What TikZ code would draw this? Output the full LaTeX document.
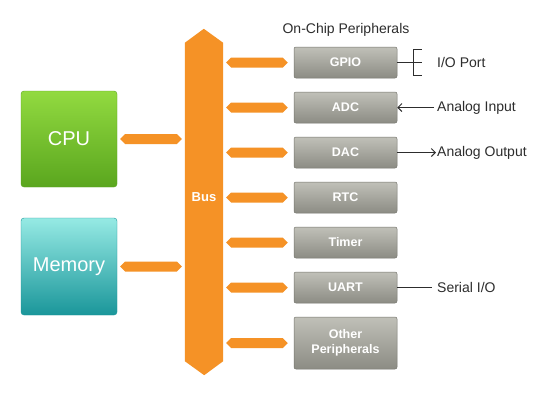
\documentclass[tikz,border=0pt]{standalone}
\usepackage{fontspec}
\setmainfont{Liberation Sans}
\usepackage{xcolor}
\definecolor{busorange}{RGB}{245, 146, 38}
\definecolor{cpulight}{RGB}{146, 218, 64}
\definecolor{cpudark}{RGB}{90, 166, 30}
\definecolor{memlight}{RGB}{150, 234, 228}
\definecolor{memdark}{RGB}{26, 150, 154}
\definecolor{perilight}{RGB}{192, 192, 184}
\definecolor{peridark}{RGB}{140, 140, 132}
\definecolor{periedge}{RGB}{118, 118, 110}
\definecolor{wiregray}{RGB}{45, 45, 45}
\usetikzlibrary{arrows.meta, calc}

% orange bus link: pointed at both ends, from #1 to #2
\newcommand{\buslink}[2]{%
  \path (#1) coordinate (lkA) (#2) coordinate (lkB);
  \fill[busorange] (lkA) -- ++(5,-5) -- ([shift={(-5,-5)}]lkB) -- (lkB)
    -- ([shift={(-5,5)}]lkB) -- ([shift={(5,5)}]lkA) -- cycle;}

\begin{document}
\begin{tikzpicture}[x=1pt, y=-1pt, >={Straight Barb[length=4pt, width=8pt]},
    block/.style={rounded corners=3pt, text=white, inner sep=0pt,
        minimum width=96pt, font=\fontsize{20}{24}\selectfont},
    periph/.style={rounded corners=2pt, top color=perilight, bottom color=peridark,
        draw=periedge, line width=0.5pt, minimum width=103pt, minimum height=31pt,
        inner sep=0pt, text=white, align=center,
        font=\bfseries\fontsize{12.5}{15}\selectfont},
    extlabel/.style={anchor=west, inner sep=0pt, text=wiregray,
        font=\fontsize{14}{16}\selectfont},
    wire/.style={wiregray, line width=1pt}]

% === Lienzo ===
\fill[white] (0,0) rectangle (550,402);
\useasboundingbox (0,0) rectangle (550,402);

% === Bus central (flecha doble vertical) ===
\node[minimum width=38pt, minimum height=318pt, inner sep=0pt] (bus) at (204,202) {};
\fill[busorange] (bus.south west) -- (bus.north west) -- ++(19,-14)
    -- (bus.north east) -- (bus.south east) -- ++(-19,14) -- cycle;
\node[text=white, font=\bfseries\fontsize{13}{15}\selectfont] (buslbl) at (204,197) {Bus};

% === CPU y memoria ===
\node[block, top color=cpulight, bottom color=cpudark, draw=cpudark,
    minimum height=96pt] (cpu) at (69,139) {CPU};
\node[block, top color=memlight, bottom color=memdark, draw=memdark,
    minimum height=97pt] (mem) at (69,266.5) {Memory};

\buslink{$(cpu.east)+(3,0)$}{$(cpu.east -| bus.west)+(-3,0)$}
\buslink{$(mem.east)+(3,0)$}{$(mem.east -| bus.west)+(-3,0)$}

% === Periféricos en el chip ===
\node[extlabel, anchor=center] (title) at (346,30) {On-Chip Peripherals};

\foreach \name/\txt/\yy in {gpio/GPIO/62.5, adc/ADC/107.5, dac/DAC/152.5,
    rtc/RTC/197.5, timer/Timer/242.5, uart/UART/287.5}
  \node[periph] (\name) at (345.5,\yy) {\txt};
\node[periph, minimum height=52pt] (other) at (345.5,343) {Other\\Peripherals};

\foreach \name in {gpio, adc, dac, rtc, timer, uart, other}
  {\buslink{$(\name.west -| bus.east)+(3,0)$}{$(\name.west)+(-6,0)$}}

% === Señales externas ===
\node[extlabel] (ioport) at (437,62.5) {I/O Port};
\node[extlabel] (adcin) at (437,107.5) {Analog Input};
\node[extlabel] (dacout) at (437,152.5) {Analog Output};
\node[extlabel] (serial) at (437,287.5) {Serial I/O};

% puerto: peine de tres líneas
\coordinate (comb) at ([xshift=16pt]gpio.east);
\draw[wire] (gpio.east) -- (comb);
\draw[wire] ([yshift=13.5pt]comb) -- ([yshift=-13.5pt]comb);
\foreach \dy in {-13, 0, 13}
  \draw[wire] ([yshift=\dy pt]comb) -- ++(9,0);

\draw[wire, ->] ([xshift=-3pt]adcin.west) -- (adc.east);
\draw[wire, ->] (dac.east) -- ([xshift=-1pt]dacout.west);
\draw[wire] (uart.east) -- ([xshift=-5pt]serial.west);

\end{tikzpicture}
\end{document}
